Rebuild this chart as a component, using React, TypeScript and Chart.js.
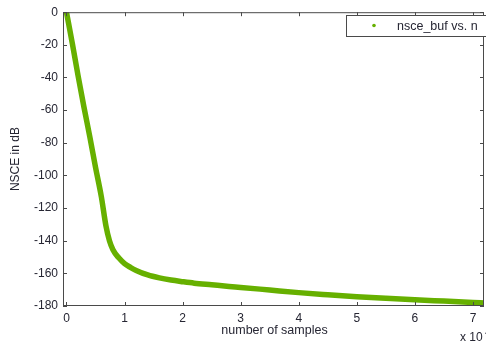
import React, { useEffect, useRef } from "react";
import { Chart, registerables } from "chart.js";

Chart.register(...registerables);

// x in units of 10^4 samples
const sampleX = [0, 0.1, 0.2, 0.3, 0.4, 0.5, 0.6, 0.68, 0.74, 0.8, 0.9, 1.0, 1.1, 1.2, 1.4, 1.6, 1.8, 2.0, 2.2, 2.5, 2.8, 3.0, 3.5, 4.0, 4.5, 5.0, 5.5, 6.0, 6.5, 7.0, 7.19];
const nsceDb = [0, -19, -39, -58, -76, -95, -113, -131, -140, -145.5, -150.5, -154, -156.3, -158.2, -161, -162.8, -164.1, -165.1, -166, -167, -168, -168.6, -170.2, -171.8, -173.1, -174.3, -175.3, -176.2, -177, -177.8, -178.2];
const xTicks = [0, 1, 2, 3, 4, 5, 6, 7];
const yTicks = [0, -20, -40, -60, -80, -100, -120, -140, -160, -180];
const seriesLabel = "nsce_buf vs. n";
const xTitle = "number of samples";
const yTitle = "NSCE in dB";

const FONT = "'Liberation Sans', Arial, sans-serif";
const GREEN = "#66b000";
const AXIS = "#4a4a4a";
const TEXT = "#262633";

export default function App() {
  const ref = useRef<HTMLCanvasElement | null>(null);
  useEffect(() => {
    if (!ref.current) return;
    const overlay = {
      id: "overlay",
      afterDraw(chart: any) {
        const { ctx, chartArea } = chart;
        const xs = chart.scales.x;
        const ys = chart.scales.y;
        const { left, right, top, bottom } = chartArea;
        ctx.save();
        ctx.strokeStyle = AXIS;
        ctx.lineWidth = 1;
        ctx.strokeRect(left + 0.5, top + 0.5, right - left - 1, bottom - top - 1);
        ctx.beginPath();
        xTicks.forEach((v) => {
          const p = Math.round(xs.getPixelForValue(v)) + 0.5;
          ctx.moveTo(p, bottom);
          ctx.lineTo(p, bottom - 4);
          ctx.moveTo(p, top);
          ctx.lineTo(p, top + 4);
        });
        yTicks.forEach((v) => {
          const p = Math.round(ys.getPixelForValue(v)) + 0.5;
          ctx.moveTo(left, p);
          ctx.lineTo(left + 4, p);
          ctx.moveTo(right, p);
          ctx.lineTo(right - 4, p);
        });
        ctx.stroke();
        // legend box
        ctx.fillStyle = "#ffffff";
        ctx.fillRect(346, 15, 145, 21);
        ctx.strokeStyle = AXIS;
        ctx.strokeRect(346.5, 15.5, 145, 21);
        ctx.fillStyle = GREEN;
        ctx.beginPath();
        ctx.arc(374, 25.5, 1.8, 0, Math.PI * 2);
        ctx.fill();
        ctx.fillStyle = TEXT;
        ctx.font = `12.5px ${FONT}`;
        ctx.textAlign = "left";
        ctx.textBaseline = "middle";
        ctx.fillText(seriesLabel, 397, 26.5);
        // axis titles
        ctx.textAlign = "center";
        ctx.fillText(xTitle, (left + right) / 2 + 1, 331);
        ctx.font = `12px ${FONT}`;
        ctx.save();
        ctx.translate(16, (top + bottom) / 2);
        ctx.rotate(-Math.PI / 2);
        ctx.fillText(yTitle, 0, 0);
        ctx.restore();
        // exponent
        ctx.textAlign = "left";
        ctx.font = `12px ${FONT}`;
        ctx.fillText("x 10", 460, 338);
        ctx.font = `8px ${FONT}`;
        ctx.fillText("4", 485, 333);
        ctx.restore();
      },
    };
    const chart = new Chart(ref.current, {
      type: "line",
      data: {
        datasets: [
          {
            label: seriesLabel,
            data: sampleX.map((x, i) => ({ x, y: nsceDb[i] })),
            borderColor: GREEN,
            backgroundColor: GREEN,
            borderWidth: 5.5,
            pointRadius: 0,
            cubicInterpolationMode: "monotone",
          },
        ],
      },
      options: {
        responsive: false,
        animation: false,
        layout: { padding: { top: 11, right: 2, left: 0, bottom: 0 } },
        plugins: { legend: { display: false }, tooltip: { enabled: false } },
        scales: {
          x: {
            type: "linear",
            min: -0.06,
            max: 7.19,
            afterBuildTicks: (s: any) => {
              s.ticks = xTicks.map((v) => ({ value: v }));
            },
            afterFit: (s: any) => {
              s.height = 37;
            },
            grid: { display: false, drawTicks: false },
            border: { display: false },
            ticks: {
              padding: 5,
              color: TEXT,
              font: { family: FONT, size: 12 },
              maxRotation: 0,
              autoSkip: false,
            },
          },
          y: {
            type: "linear",
            min: -180,
            max: 0,
            afterBuildTicks: (s: any) => {
              s.ticks = yTicks.map((v) => ({ value: v }));
            },
            afterFit: (s: any) => {
              s.width = 63;
            },
            grid: { display: false, drawTicks: false },
            border: { display: false },
            ticks: {
              padding: 5,
              color: TEXT,
              font: { family: FONT, size: 12 },
              autoSkip: false,
            },
          },
        },
      },
      plugins: [overlay],
    } as any);
    return () => chart.destroy();
  }, []);
  return (
    <div style={{ position: "absolute", left: 0, top: 0, width: 486, height: 343, background: "#fff", overflow: "hidden" }}>
      <canvas ref={ref} width={486} height={343} />
    </div>
  );
}
